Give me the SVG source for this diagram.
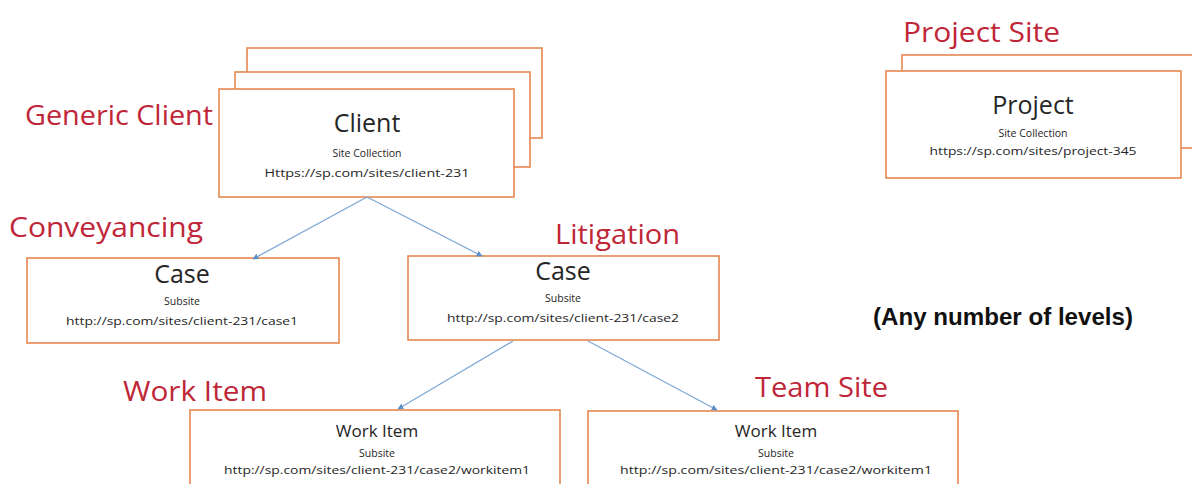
<svg xmlns="http://www.w3.org/2000/svg" width="1192" height="484" viewBox="0 0 1192 484">
<defs>
<style>
.box{fill:#ffffff;stroke:#E4884F;stroke-width:1.6}
.lbl{font-family:"Open Sans","Liberation Sans",sans-serif;font-size:28px;fill:#BF2638}
.t{font-family:"Open Sans","Liberation Sans",sans-serif;fill:#262626;text-anchor:middle}
.big{font-size:25px}
.mid{font-size:17px}
.sm{font-size:10.5px}
.conn{stroke:#7FA8D6;stroke-width:1.3;fill:none;marker-end:url(#ah)}
.note{font-family:"Liberation Sans",Arial,sans-serif;font-weight:bold;font-size:24px;fill:#111}
</style>
<marker id="ah" viewBox="0 0 10 10" refX="9" refY="5" markerWidth="6" markerHeight="6" orient="auto" markerUnits="userSpaceOnUse">
<path d="M0,0 L10,5 L0,10 z" fill="#5B8FC9"/>
</marker>
</defs>
<rect width="1192" height="484" fill="#ffffff"/>

<g id="labels">
<text class="lbl" x="25" y="125" textLength="188" lengthAdjust="spacingAndGlyphs">Generic Client</text>
<text class="lbl" x="9" y="237" textLength="194" lengthAdjust="spacingAndGlyphs">Conveyancing</text>
<text class="lbl" x="555" y="244" textLength="125" lengthAdjust="spacingAndGlyphs">Litigation</text>
<text class="lbl" x="123" y="401" textLength="144" lengthAdjust="spacingAndGlyphs">Work Item</text>
<text class="lbl" x="755" y="397" textLength="133" lengthAdjust="spacingAndGlyphs">Team Site</text>
<text class="lbl" x="903" y="42" textLength="157" lengthAdjust="spacingAndGlyphs">Project Site</text>
<text class="note" x="873" y="325" textLength="260" lengthAdjust="spacingAndGlyphs">(Any number of levels)</text>
</g>

<g id="client">
<rect class="box" x="247" y="48" width="295" height="90"/>
<rect class="box" x="235" y="72" width="295" height="95"/>
<rect class="box" x="219" y="89" width="295" height="108"/>
<text class="t big" x="367" y="132">Client</text>
<text class="t sm" x="367" y="157">Site Collection</text>
<text class="t sm" x="367" y="177" textLength="205" lengthAdjust="spacingAndGlyphs">Https://sp.com/sites/client-231</text>
</g>

<g id="project">
<rect class="box" x="902" y="55" width="310" height="93"/>
<rect class="box" x="886" y="71" width="295" height="107"/>
<text class="t big" x="1033" y="114">Project</text>
<text class="t sm" x="1033" y="137">Site Collection</text>
<text class="t sm" x="1033" y="155" textLength="207" lengthAdjust="spacingAndGlyphs">https://sp.com/sites/project-345</text>
</g>

<g id="case1">
<rect class="box" x="27" y="258" width="312" height="85"/>
<text class="t big" x="182" y="283">Case</text>
<text class="t sm" x="182" y="305">Subsite</text>
<text class="t sm" x="182" y="325" textLength="232" lengthAdjust="spacingAndGlyphs">http://sp.com/sites/client-231/case1</text>
</g>

<g id="case2">
<rect class="box" x="408" y="256" width="311" height="84"/>
<text class="t big" x="563" y="280">Case</text>
<text class="t sm" x="563" y="302">Subsite</text>
<text class="t sm" x="563" y="322" textLength="232" lengthAdjust="spacingAndGlyphs">http://sp.com/sites/client-231/case2</text>
</g>

<g id="workitem1">
<rect class="box" x="190" y="410" width="370" height="90"/>
<text class="t mid" x="377" y="437">Work Item</text>
<text class="t sm" x="377" y="457">Subsite</text>
<text class="t sm" x="377" y="474" textLength="306" lengthAdjust="spacingAndGlyphs">http://sp.com/sites/client-231/case2/workitem1</text>
</g>

<g id="workitem2">
<rect class="box" x="588" y="411" width="370" height="90"/>
<text class="t mid" x="776" y="437">Work Item</text>
<text class="t sm" x="776" y="457">Subsite</text>
<text class="t sm" x="776" y="474" textLength="312" lengthAdjust="spacingAndGlyphs">http://sp.com/sites/client-231/case2/workitem1</text>
</g>

<g id="connectors">
<line class="conn" x1="367" y1="197" x2="253" y2="259"/>
<line class="conn" x1="367" y1="197" x2="482" y2="256"/>
<line class="conn" x1="513" y1="341" x2="398" y2="409"/>
<line class="conn" x1="588" y1="341" x2="717" y2="410"/>
</g>
</svg>
